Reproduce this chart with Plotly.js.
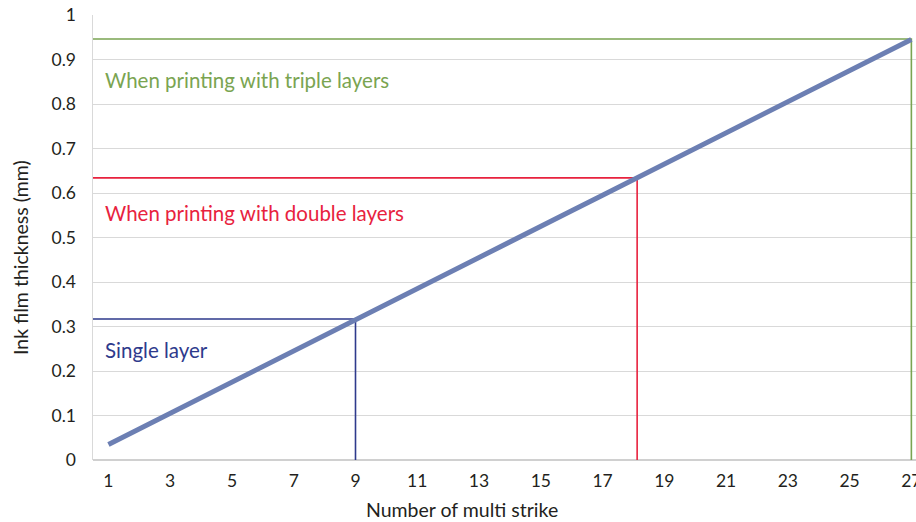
<!DOCTYPE html>
<html>
<head>
<meta charset="utf-8">
<script src="https://cdn.plot.ly/plotly-3.0.1.min.js"></script>
<style>html,body{margin:0;padding:0;background:#fff;}#chart{width:916px;height:522px;}</style>
</head>
<body>
<div id="chart"></div>
<script>
// Data
const strikes = [1,2,3,4,5,6,7,8,9,10,11,12,13,14,15,16,17,18,19,20,21,22,23,24,25,26,27];
const thickness = [0.035,0.07,0.107,0.14,0.175,0.21,0.248,0.282,0.315,0.35,0.387,0.42,0.455,0.49,0.527,0.56,0.595,0.63,0.667,0.7,0.735,0.77,0.808,0.842,0.876,0.91,0.945];
const xTicks = [1,3,5,7,9,11,13,15,17,19,21,23,25,27];
const yTicks = [0,0.1,0.2,0.3,0.4,0.5,0.6,0.7,0.8,0.9,1];
const yTickLabels = ['0','0.1','0.2','0.3','0.4','0.5','0.6','0.7','0.8','0.9','1'];
const refNames = ['Single layer','When printing with double layers','When printing with triple layers'];
const refX = [9, 18.12, 27];
const refY = [0.317, 0.634, 0.946];
const refLabelY = [0.247, 0.555, 0.854];
const refColors = ['#2e3a8c','#e8223e','#7aa451'];
const xTitle = 'Number of multi strike';
const yTitle = 'Ink film thickness (mm)';

const FONT = 'Lato, sans-serif';
const xMin = 0.5;

const traces = [];
refX.forEach((rx, i) => {
  traces.push({
    x: [xMin, rx, rx], y: [refY[i], refY[i], 0],
    type: 'scatter', mode: 'lines',
    line: {color: refColors[i], width: 1.6},
    hoverinfo: 'skip', showlegend: false, cliponaxis: false
  });
});
traces.push({
  x: strikes, y: thickness, type: 'scatter', mode: 'lines',
  line: {color: '#6c7fb3', width: 5},
  showlegend: false
});

const L = 93, R = 0, T = 15, B = 62, W = 916, H = 522;
const pw = W - L - R, ph = H - T - B;

const annotations = refNames.map((t, i) => ({
  x: 0.82, y: refLabelY[i], xref: 'x', yref: 'y', text: t,
  showarrow: false, xanchor: 'left', yanchor: 'middle',
  font: {family: FONT, size: 20.5, color: refColors[i]}
}));
annotations.push({
  x: (462 - L) / pw, y: (H - B - 509) / ph, xref: 'paper', yref: 'paper',
  text: xTitle, showarrow: false,
  font: {family: FONT, size: 19.5, color: '#231f20'}, xanchor: 'center', yanchor: 'middle'
});
annotations.push({
  x: (20 - L) / pw, y: (H - B - 258) / ph, xref: 'paper', yref: 'paper',
  text: yTitle, showarrow: false, textangle: -90,
  font: {family: FONT, size: 19.5, color: '#231f20'}, xanchor: 'center', yanchor: 'middle'
});

const layout = {
  width: W, height: H,
  margin: {l: L, r: R, t: T, b: B, pad: 0},
  paper_bgcolor: '#fff', plot_bgcolor: '#fff',
  showlegend: false,
  font: {family: FONT, size: 17.5, color: '#231f20'},
  xaxis: {
    range: [xMin, 27.15], tickvals: xTicks, ticktext: xTicks.map(String),
    showgrid: false, zeroline: false, showline: false,
    ticks: 'outside', ticklen: 5, tickcolor: 'rgba(0,0,0,0)',
    ticklabeloverflow: 'allow',
    tickfont: {family: FONT, size: 17.5, color: '#231f20'}
  },
  yaxis: {
    range: [0, 1], tickvals: yTicks, ticktext: yTickLabels,
    showgrid: true, gridcolor: '#d9d9d9', gridwidth: 1,
    zeroline: true, zerolinecolor: '#d0d0d0', zerolinewidth: 1.5,
    showline: true, linecolor: '#d9d9d9', linewidth: 1.5,
    ticks: 'outside', ticklen: 12, tickcolor: 'rgba(0,0,0,0)',
    tickfont: {family: FONT, size: 17.5, color: '#231f20'}
  },
  annotations: annotations
};

Plotly.newPlot('chart', traces, layout, {displayModeBar: false, staticPlot: true});
</script>
</body>
</html>
